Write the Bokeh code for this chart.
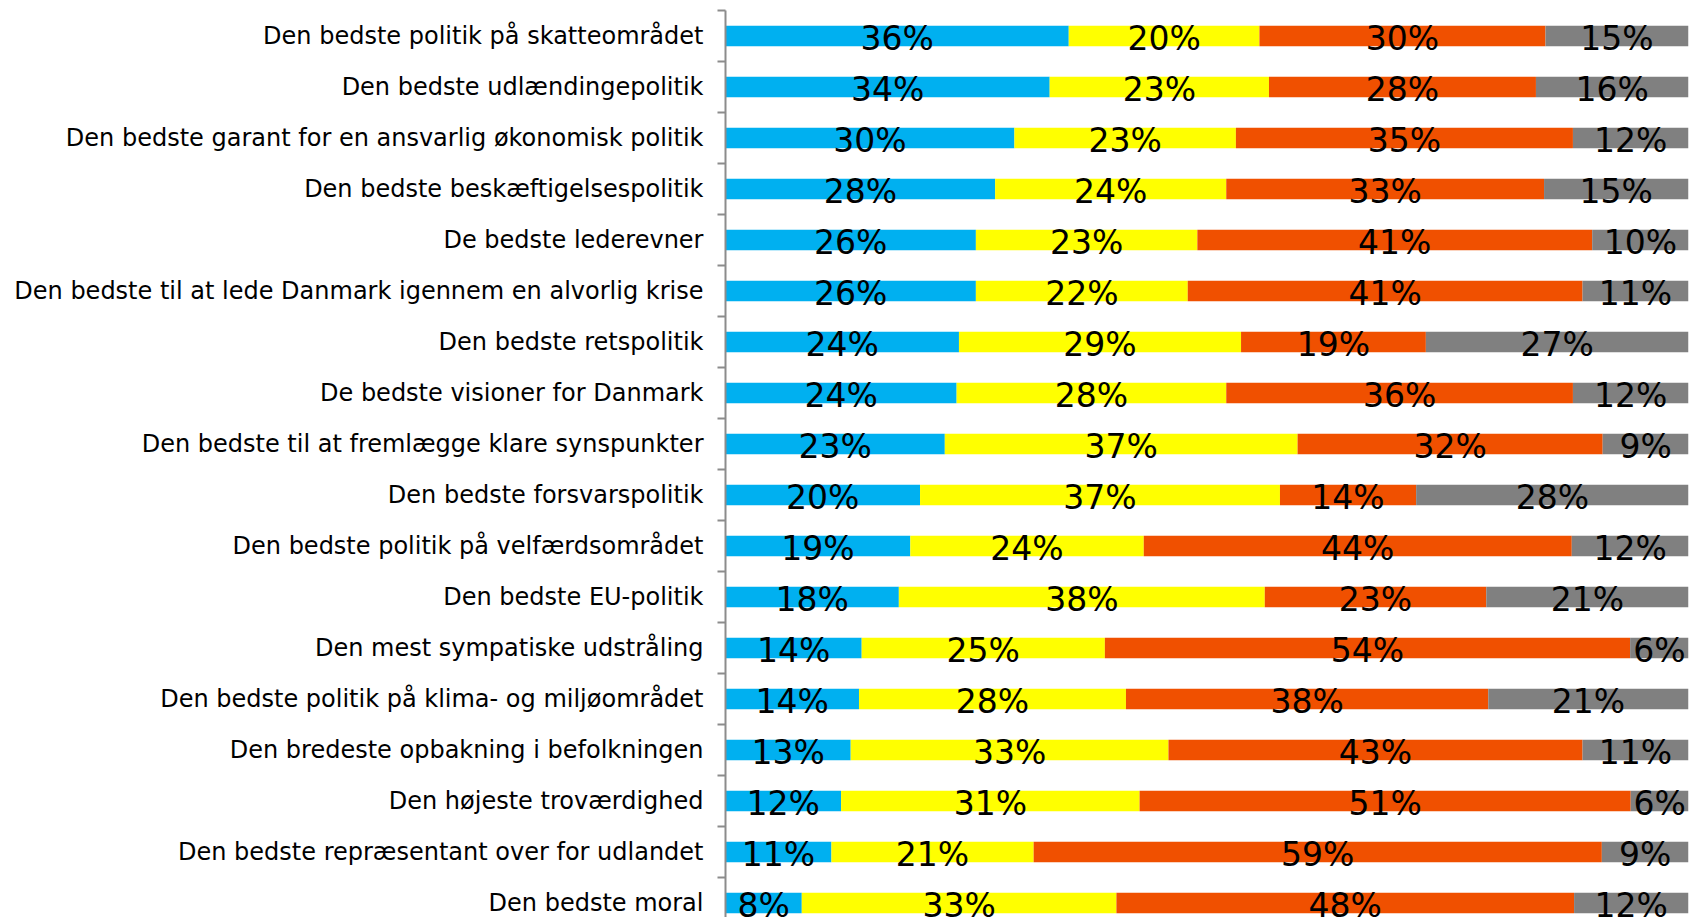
from bokeh.plotting import figure
from bokeh.models import ColumnDataSource, Range1d, FixedTicker
from bokeh.core.properties import value
from bokeh.embed import file_html
from bokeh.resources import INLINE

categories = [
    "Den bedste politik på skatteområdet",
    "Den bedste udlændingepolitik",
    "Den bedste garant for en ansvarlig økonomisk politik",
    "Den bedste beskæftigelsespolitik",
    "De bedste lederevner",
    "Den bedste til at lede Danmark igennem en alvorlig krise",
    "Den bedste retspolitik",
    "De bedste visioner for Danmark",
    "Den bedste til at fremlægge klare synspunkter",
    "Den bedste forsvarspolitik",
    "Den bedste politik på velfærdsområdet",
    "Den bedste EU-politik",
    "Den mest sympatiske udstråling",
    "Den bedste politik på klima- og miljøområdet",
    "Den bredeste opbakning i befolkningen",
    "Den højeste troværdighed",
    "Den bedste repræsentant over for udlandet",
    "Den bedste moral",
]
blue_vals = [36, 34, 30, 28, 26, 26, 24, 24, 23, 20, 19, 18, 14, 14, 13, 12, 11, 8]
yellow_vals = [20, 23, 23, 24, 23, 22, 29, 28, 37, 37, 24, 38, 25, 28, 33, 31, 21, 33]
orange_vals = [30, 28, 35, 33, 41, 41, 19, 36, 32, 14, 44, 23, 54, 38, 43, 51, 59, 48]
gray_vals = [15, 16, 12, 15, 10, 11, 27, 12, 9, 28, 12, 21, 6, 21, 11, 6, 9, 12]

series = [blue_vals, yellow_vals, orange_vals, gray_vals]
colors = ["#00B0F0", "#FFFF00", "#F05000", "#808080"]

n = len(categories)
ys = [-i for i in range(n)]
totals = [sum(s[i] for s in series) for i in range(n)]

W, H = 1690, 917
top_border = 10
band_px = 51.0
frame_h = H - top_border
p = figure(width=W, height=H, output_backend="svg", toolbar_location=None,
           x_range=Range1d(0, 100),
           y_range=Range1d(0.5 - frame_h / band_px, 0.5),
           min_border_left=725, min_border_right=2,
           min_border_top=top_border, min_border_bottom=0,
           x_axis_location=None)
p.outline_line_color = None
p.xgrid.visible = False
p.ygrid.visible = False
p.background_fill_color = "white"

left = [0.0] * n
for vals, col in zip(series, colors):
    lefts = left[:]
    rights = [lefts[i] + 100.0 * vals[i] / totals[i] for i in range(n)]
    mids = [(lefts[i] + rights[i]) / 2 for i in range(n)]
    src = ColumnDataSource(dict(y=ys, left=lefts, right=rights, mid=mids,
                                lab=[f"{v}%" for v in vals]))
    p.hbar(y="y", left="left", right="right", height=0.4, source=src,
           fill_color=col, line_color=None)
    p.text(x="mid", y="y", text="lab", source=src, text_align="center",
           text_baseline="middle", y_offset=2,
           text_font=value("DejaVu Sans"), text_font_size="33px",
           text_color="black")
    left = rights

ax = p.yaxis[0]
ax.ticker = FixedTicker(ticks=ys, minor_ticks=[-i + 0.5 for i in range(n + 1)])
ax.major_label_overrides = {y: c for y, c in zip(ys, categories)}
ax.major_tick_line_color = None
ax.major_tick_out = 0
ax.major_tick_in = 0
ax.minor_tick_line_color = "#8C8C8C"
ax.minor_tick_line_width = 2
ax.minor_tick_out = 8
ax.minor_tick_in = 0
ax.axis_line_color = "#8C8C8C"
ax.axis_line_width = 2
ax.major_label_standoff = 14
ax.major_label_text_font = "DejaVu Sans"
ax.major_label_text_font_size = "24px"
ax.major_label_text_color = "black"

open("out.html", "w").write(file_html(p, INLINE))
